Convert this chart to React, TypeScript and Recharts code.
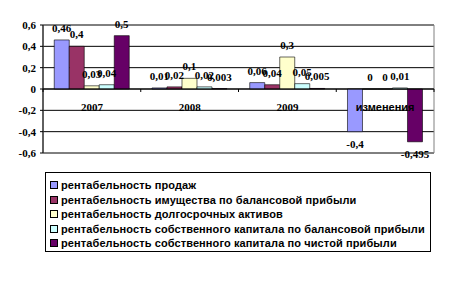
import { Bar, BarChart, CartesianGrid, ReferenceArea, ReferenceLine, XAxis, YAxis } from "recharts";

const categories = ["2007", "2008", "2009", "изменения"];
const salesRoa = [0.46, 0.01, 0.06, -0.4];
const assetsBalance = [0.4, 0.02, 0.04, 0];
const longTermAssets = [0.03, 0.1, 0.3, 0];
const equityBalance = [0.04, 0.02, 0.05, 0.01];
const equityNet = [0.5, 0.003, 0.005, -0.495];
const yTicks = [-0.6, -0.4, -0.2, 0, 0.2, 0.4, 0.6];

const series = [
  { key: "s1", name: "рентабельность продаж", values: salesRoa, color: "#9999ff" },
  { key: "s2", name: "рентабельность имущества по балансовой прибыли", values: assetsBalance, color: "#993366" },
  { key: "s3", name: "рентабельность долгосрочных активов", values: longTermAssets, color: "#ffffcc" },
  { key: "s4", name: "рентабельность собственного капитала по балансовой прибыли", values: equityBalance, color: "#ccffff" },
  { key: "s5", name: "рентабельность собственного капитала по чистой прибыли", values: equityNet, color: "#660066" },
];

const data = categories.map((c, i) => {
  const row: Record<string, string | number> = { cat: c };
  series.forEach((s) => (row[s.key] = s.values[i]));
  return row;
});

const W = 451;
const H = 281;
const xAxisH = 30;
const margin = { top: 25, right: 17, left: 0, bottom: 98 };
const yAxisW = 43;
const plotW = W - margin.left - margin.right - yAxisW;
const plotH = H - margin.top - margin.bottom - xAxisH;
const zeroY = margin.top + plotH * (0.6 / 1.2);
const band = plotW / categories.length;

const numFont = "'Liberation Serif', 'Times New Roman', serif";
const sansFont = "'Liberation Sans', Arial, sans-serif";
const fmt = (v: number) => String(v).replace(".", ",");

const valueLabel = (props: any) => {
  const { x, y, width, height, value } = props;
  if (value == null || x == null) return null;
  const h = height || 0;
  const top = Math.min(y, y + h);
  const bottom = Math.max(y, y + h);
  const neg = Number(value) < 0;
  return (
    <text
      x={x + width / 2}
      y={neg ? bottom + 16 : top - 8}
      textAnchor="middle"
      fontFamily={numFont}
      fontWeight="bold"
      fontSize={11}
      fill="#000"
    >
      {fmt(Number(value))}
    </text>
  );
};

function CatTick(props: any) {
  const { x, payload, index } = props;
  const last = index === categories.length - 1;
  const isYear = /^\d+$/.test(String(payload.value));
  return (
    <g>
      <line x1={x - band / 2} x2={x - band / 2} y1={zeroY} y2={zeroY + 3} stroke="#000" />
      {last && <line x1={x + band / 2} x2={x + band / 2} y1={zeroY} y2={zeroY + 3} stroke="#000" />}
      <text
        x={x}
        y={zeroY + 22}
        textAnchor="middle"
        fontFamily={isYear ? numFont : sansFont}
        fontWeight="bold"
        fontSize={11}
        fill="#000"
      >
        {payload.value}
      </text>
    </g>
  );
}

export default function App() {
  return (
    <div style={{ position: "absolute", left: 0, top: 0, width: W, height: H, background: "#fff" }}>
      <BarChart width={W} height={H} data={data} margin={margin} barCategoryGap="11.5%" barGap={0}>
        <ReferenceArea y1={-0.6} y2={0.6} fill="none" stroke="#808080" strokeWidth={1} />
        <CartesianGrid vertical={false} stroke="#000" strokeWidth={1} />
        <XAxis dataKey="cat" height={xAxisH} axisLine={false} tickLine={false} tick={<CatTick />} interval={0} />
        <YAxis
          width={yAxisW}
          domain={[-0.6, 0.6]}
          ticks={yTicks}
          interval={0}
          tickFormatter={fmt}
          stroke="#000"
          tickSize={3}
          tickMargin={4}
          tick={{ fill: "#000", fontFamily: numFont, fontWeight: "bold", fontSize: 11 }}
        />
        <ReferenceLine y={0} stroke="#000" />
        {series.map((s) => (
          <Bar
            key={s.key}
            dataKey={s.key}
            name={s.name}
            fill={s.color}
            stroke="#000"
            strokeWidth={0.6}
            minPointSize={(v: number) => (v === 0 ? 0.01 : 0)}
            label={valueLabel}
            isAnimationActive={false}
          />
        ))}
      </BarChart>
      <div
        style={{
          position: "absolute",
          left: 45,
          top: 172,
          width: 386,
          height: 80,
          border: "1px solid #000",
          fontFamily: sansFont,
          fontWeight: "bold",
          fontSize: 11,
          letterSpacing: 0.1,
          paddingTop: 5,
          boxSizing: "border-box",
        }}
      >
        {series.map((s) => (
          <div key={s.key} style={{ display: "flex", alignItems: "center", height: 14.5, paddingLeft: 4 }}>
            <span style={{ width: 6, height: 6, background: s.color, border: "1px solid #000", marginRight: 3, flexShrink: 0 }} />
            <span style={{ whiteSpace: "nowrap" }}>{s.name}</span>
          </div>
        ))}
      </div>
    </div>
  );
}
